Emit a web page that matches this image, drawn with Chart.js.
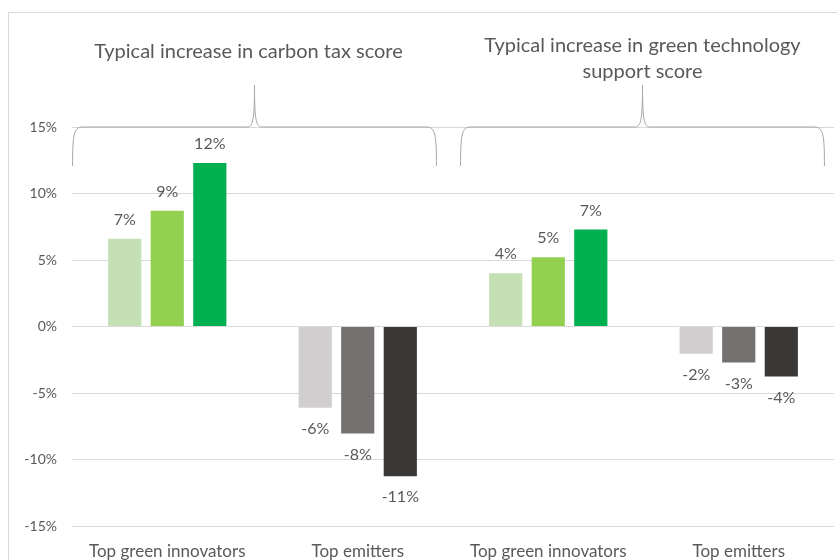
<!DOCTYPE html>
<html>
<head>
<meta charset="utf-8">
<script src="https://cdn.jsdelivr.net/npm/chart.js@4.4.1/dist/chart.umd.min.js"></script>
<style>
  html, body { margin: 0; padding: 0; background: #fff; overflow: hidden; }
  #frame { position: absolute; left: 8px; top: 12px; width: 900px; height: 600px; border: 1px solid #d9d9d9; }
  #wrap { position: absolute; left: 0; top: 0; width: 837px; height: 560px; }
</style>
</head>
<body>
<div id="frame"></div>
<div id="wrap"><canvas id="chart"></canvas></div>
<script>
const categories = ['Top green innovators', 'Top emitters', 'Top green innovators', 'Top emitters'];
const groupTitles = [['Typical increase in carbon tax score'], ['Typical increase in green technology', 'support score']];

// three bars per category, values in %
const lowValues = [6.6, -6.1, 4.0, -2.05];
const midValues = [8.7, -8.05, 5.2, -2.7];
const highValues = [12.3, -11.25, 7.3, -3.75];

const yTicks = [-15, -10, -5, 0, 5, 10, 15];

const greens = ['#c5e0b4', '#92d050', '#00b050'];
const greys = ['#d0cece', '#767171', '#3b3838'];

const fontFamily = 'Lato, "Open Sans", sans-serif';
const textColor = '#595959';

function colorsFor(i) {
    return categories.map(c => c === 'Top emitters' ? greys[i] : greens[i]);
}

// value labels above / below each bar
const valueLabels = {
    id: 'valueLabels',
    afterDatasetsDraw(chart) {
        const ctx = chart.ctx;
        ctx.save();
        ctx.font = '16px ' + fontFamily;
        ctx.fillStyle = textColor;
        ctx.textAlign = 'center';
        ctx.textBaseline = 'middle';
        chart.data.datasets.forEach((ds, i) => {
            chart.getDatasetMeta(i).data.forEach((bar, j) => {
                const v = ds.data[j];
                const txt = Math.round(v) + '%';
                const y = v >= 0 ? bar.y - 19 : bar.y + 21;
                ctx.fillText(txt, bar.x, y);
            });
        });
        ctx.restore();
    }
};

function drawBrace(ctx, x1, x2, y) {
    const cx = (x1 + x2) / 2;
    ctx.beginPath();
    ctx.moveTo(x1, y + 39);
    ctx.bezierCurveTo(x1, y + 8, x1 + 1, y, x1 + 10, y);
    ctx.lineTo(cx - 8, y);
    ctx.bezierCurveTo(cx - 2, y, cx, y - 4, cx, y - 42);
    ctx.bezierCurveTo(cx, y - 4, cx + 2, y, cx + 8, y);
    ctx.lineTo(x2 - 10, y);
    ctx.bezierCurveTo(x2 - 1, y, x2, y + 8, x2, y + 39);
    ctx.stroke();
}

// braces + titles over each pair of categories
const groupBraces = {
    id: 'groupBraces',
    afterDraw(chart) {
        const ctx = chart.ctx;
        const xs = chart.scales.x;
        const top = chart.scales.y.getPixelForValue(15);
        const catW = xs.getPixelForValue(1) - xs.getPixelForValue(0);
        ctx.save();
        ctx.strokeStyle = '#a6a6a6';
        ctx.lineWidth = 1;
        ctx.font = '20px ' + fontFamily;
        ctx.fillStyle = textColor;
        ctx.textAlign = 'center';
        ctx.textBaseline = 'middle';
        for (let g = 0; g < 2; g++) {
            const cx = (xs.getPixelForValue(g * 2) + xs.getPixelForValue(g * 2 + 1)) / 2 - (g === 0 ? 8 : 1);
            const half = catW * 0.955;
            drawBrace(ctx, cx - half, cx + half, top);
            const lines = groupTitles[g];
            if (lines.length === 1) {
                ctx.fillText(lines[0], cx - 6, top - 75);
            } else {
                ctx.fillText(lines[0], cx, top - 81);
                ctx.fillText(lines[1], cx, top - 55);
            }
        }
        ctx.restore();
    }
};

new Chart(document.getElementById('chart'), {
    type: 'bar',
    data: {
        labels: categories,
        datasets: [
            { data: lowValues, backgroundColor: colorsFor(0) },
            { data: midValues, backgroundColor: colorsFor(1) },
            { data: highValues, backgroundColor: colorsFor(2) }
        ]
    },
    options: {
        responsive: true,
        maintainAspectRatio: false,
        animation: false,
        categoryPercentage: 0.67,
        barPercentage: 0.78,
        layout: { padding: { left: 8, top: 127, right: 3, bottom: 0 } },
        plugins: {
            legend: { display: false },
            tooltip: { enabled: false }
        },
        scales: {
            x: {
                grid: { display: false },
                border: { display: false },
                ticks: { color: textColor, font: { family: fontFamily, size: 17 }, padding: 7 },
                afterFit(scale) { scale.height = 34; }
            },
            y: {
                min: -15,
                max: 15,
                afterBuildTicks(scale) { scale.ticks = yTicks.map(v => ({ value: v })); },
                grid: { color: '#d9d9d9', drawTicks: false },
                border: { display: false },
                ticks: {
                    color: textColor,
                    font: { family: fontFamily, size: 14 },
                    padding: 15,
                    callback: v => v + '%'
                },
                afterFit(scale) { scale.width = 64; }
            }
        }
    },
    plugins: [valueLabels, groupBraces]
});
</script>
</body>
</html>
